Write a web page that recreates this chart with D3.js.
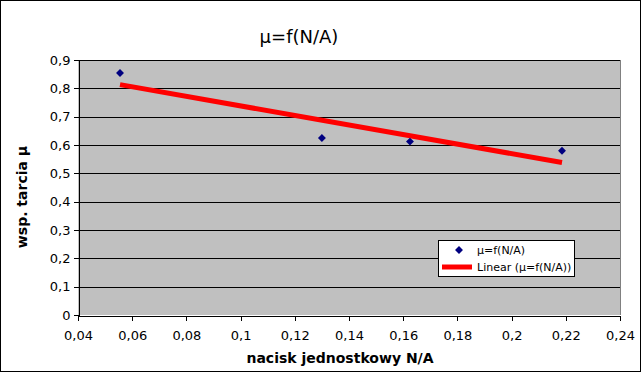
<!DOCTYPE html>
<html>
<head>
<meta charset="utf-8">
<script src="https://cdn.jsdelivr.net/npm/d3@7"></script>
<style>
body { margin: 0; background: #fff; }
svg { display: block; font-family: "DejaVu Sans", sans-serif; }
</style>
</head>
<body>
<svg id="chart" width="641" height="372"></svg>
<script>
var naciskValues = [0.0555, 0.130, 0.1625, 0.2186];
var muValues = [0.854, 0.625, 0.612, 0.580];
var xTicks = [0.04, 0.06, 0.08, 0.1, 0.12, 0.14, 0.16, 0.18, 0.2, 0.22, 0.24];
var yTicks = [0, 0.1, 0.2, 0.3, 0.4, 0.5, 0.6, 0.7, 0.8, 0.9];
var seriesName = "μ=f(N/A)";
var trendName = "Linear (μ=f(N/A))";

window.addEventListener("load", run);

function fmt(v) {
    return String(+v.toFixed(3)).replace(".", ",");
}

function run() {
    var svg = d3.select("#chart");
    var W = +svg.attr("width"), H = +svg.attr("height");
    var m = { left: 78, right: 620, top: 60, bottom: 315 };

    var x = d3.scaleLinear().domain([0.04, 0.24]).range([m.left, m.right]);
    var y = d3.scaleLinear().domain([0, 0.9]).range([m.bottom, m.top]);

    // outer frame
    svg.append("rect")
        .attr("x", 0.5).attr("y", 0.5)
        .attr("width", W - 1).attr("height", H - 1)
        .style("fill", "#fff").style("stroke", "#000");

    // plot area
    svg.append("rect")
        .attr("x", m.left).attr("y", m.top)
        .attr("width", m.right - m.left).attr("height", m.bottom - m.top)
        .style("fill", "#c0c0c0");

    // gridlines
    svg.append("g").selectAll("line")
        .data(yTicks.filter(function(d) { return d > 0; }))
        .enter().append("line")
        .attr("x1", m.left).attr("x2", m.right)
        .attr("y1", function(d) { return Math.round(y(d)) + 0.5; })
        .attr("y2", function(d) { return Math.round(y(d)) + 0.5; })
        .attr("shape-rendering", "crispEdges")
        .style("stroke", "#000").style("stroke-width", 1);

    // right border gray
    svg.append("line")
        .attr("x1", m.right + 0.5).attr("x2", m.right + 0.5)
        .attr("y1", m.top).attr("y2", m.bottom)
        .attr("shape-rendering", "crispEdges")
        .style("stroke", "#808080");

    // axes
    var xAxis = d3.axisBottom(x).tickValues(xTicks).tickSize(5).tickSizeOuter(0).tickFormat(fmt);
    var yAxis = d3.axisLeft(y).tickValues(yTicks).tickSize(5).tickSizeOuter(0).tickFormat(fmt);

    var gx = svg.append("g")
        .attr("transform", "translate(0," + (m.bottom + 0.5) + ")")
        .call(xAxis);
    var gy = svg.append("g")
        .attr("transform", "translate(" + (m.left + 0.5) + ",0)")
        .call(yAxis);

    [gx, gy].forEach(function(g) {
        g.selectAll("path, line").style("stroke", "#000").attr("shape-rendering", "crispEdges");
        g.selectAll("text")
            .style("font-family", "DejaVu Sans, sans-serif")
            .style("font-size", "13px")
            .style("fill", "#000");
    });
    gx.selectAll("text").attr("dy", "1.25em");
    gy.selectAll("text").attr("x", -8);

    // linear regression trendline
    var mx = d3.mean(naciskValues), my = d3.mean(muValues);
    var sxy = 0, sxx = 0;
    naciskValues.forEach(function(v, i) {
        sxy += (v - mx) * (muValues[i] - my);
        sxx += (v - mx) * (v - mx);
    });
    var slope = sxy / sxx, icpt = my - slope * mx;
    var x0 = d3.min(naciskValues), x1 = d3.max(naciskValues);

    svg.append("line")
        .attr("x1", x(x0)).attr("y1", y(icpt + slope * x0))
        .attr("x2", x(x1)).attr("y2", y(icpt + slope * x1))
        .style("stroke", "#ff0000").style("stroke-width", 5);

    // points
    var diamond = d3.symbol().type(d3.symbolDiamond2).size(40);
    svg.append("g").selectAll("path")
        .data(naciskValues)
        .enter().append("path")
        .attr("d", diamond)
        .attr("transform", function(d, i) { return "translate(" + x(d) + "," + y(muValues[i]) + ")"; })
        .style("fill", "#000080");

    // title
    svg.append("text")
        .attr("x", 299).attr("y", 43)
        .style("text-anchor", "middle")
        .style("font-size", "18px")
        .text(seriesName);

    // axis titles
    svg.append("text")
        .attr("x", 340).attr("y", 363)
        .style("text-anchor", "middle")
        .style("font-size", "14px")
        .style("font-weight", "bold")
        .text("nacisk jednostkowy N/A");

    svg.append("text")
        .attr("transform", "translate(27,197) rotate(-90)")
        .style("text-anchor", "middle")
        .style("font-size", "14px")
        .style("font-weight", "bold")
        .text("wsp. tarcia μ");

    // legend
    var lg = svg.append("g");
    lg.append("rect")
        .attr("x", 438.5).attr("y", 240.5)
        .attr("width", 136).attr("height", 36)
        .attr("shape-rendering", "crispEdges")
        .style("fill", "#fff").style("stroke", "#000");
    lg.append("path")
        .attr("d", diamond)
        .attr("transform", "translate(459,250)")
        .style("fill", "#000080");
    lg.append("line")
        .attr("x1", 442).attr("x2", 472)
        .attr("y1", 267).attr("y2", 267)
        .style("stroke", "#ff0000").style("stroke-width", 5);
    lg.append("text")
        .attr("x", 477).attr("y", 254)
        .style("font-size", "11px")
        .text(seriesName);
    lg.append("text")
        .attr("x", 477).attr("y", 271)
        .style("font-size", "11px")
        .text(trendName);
}
</script>
</body>
</html>
